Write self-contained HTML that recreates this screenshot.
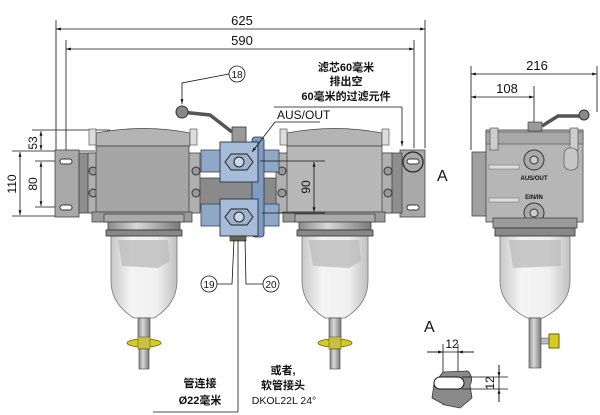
<!DOCTYPE html>
<html><head><meta charset="utf-8"><style>
html,body{margin:0;padding:0;background:#fff;}
svg{display:block;}
text{font-family:"Liberation Sans","Noto Sans CJK SC",sans-serif;fill:#111;}
.cj{font-weight:bold;}
</style></head><body>
<svg width="600" height="415" viewBox="0 0 600 415" xmlns="http://www.w3.org/2000/svg">
<defs>
<linearGradient id="bowl" x1="0" x2="1">
<stop offset="0" stop-color="#c8c8c8"/><stop offset="0.3" stop-color="#f4f4f4"/><stop offset="0.7" stop-color="#f0f0f0"/><stop offset="1" stop-color="#c0c0c0"/></linearGradient>
<linearGradient id="metal" x1="0" x2="1">
<stop offset="0" stop-color="#8a8a8a"/><stop offset="0.4" stop-color="#d8d8d8"/><stop offset="1" stop-color="#7a7a7a"/></linearGradient>
<marker id="ar" viewBox="0 0 10 10" refX="10" refY="5" markerWidth="8" markerHeight="6" orient="auto-start-reverse"><path d="M0,2 L10,5 L0,8z" fill="#111"/></marker>
<g id="filt">
 <path d="M-33,0 L33,0 L33,45 Q33,68 10,82 L-10,82 Q-33,68 -33,45 Z" fill="url(#bowl)" stroke="#777" stroke-width="0.8"/>
 <path d="M-26,4 L24,4 L26,25 L14,32 L-22,30 Z" fill="#bdbdbd" opacity="0.8"/>
 <rect x="-40" y="-22" width="80" height="8" fill="#aaa" stroke="#444" stroke-width="0.8"/>
 <rect x="-36" y="-14" width="72" height="8" fill="url(#metal)" stroke="#444" stroke-width="0.8"/>
 <rect x="-38" y="-6" width="76" height="6" fill="#888" stroke="#333" stroke-width="0.8"/>
 <rect x="-6" y="82" width="12" height="20" fill="url(#metal)" stroke="#444" stroke-width="0.6"/>
 <ellipse cx="0" cy="107" rx="17" ry="4" fill="#d4cc22" stroke="#6a6200" stroke-width="0.8"/>
 <rect x="-6" y="101" width="12" height="12" fill="#c8c040" stroke="#6a6200" stroke-width="0.6"/>
 <rect x="-5" y="113" width="10" height="20" fill="url(#metal)" stroke="#444" stroke-width="0.6"/>
</g>
</defs>

<g stroke="#111" stroke-width="0.8" fill="none">
<line x1="56" y1="20" x2="56" y2="150"/><line x1="425" y1="20" x2="425" y2="148"/>
<line x1="56" y1="29" x2="425" y2="29" marker-start="url(#ar)" marker-end="url(#ar)"/>
<line x1="66" y1="40" x2="66" y2="150"/><line x1="414" y1="40" x2="414" y2="148"/>
<line x1="66" y1="49" x2="414" y2="49" marker-start="url(#ar)" marker-end="url(#ar)"/>
</g>
<text x="242" y="25" font-size="13" text-anchor="middle">625</text>
<text x="242" y="45" font-size="13" text-anchor="middle">590</text>

<g stroke="#111" stroke-width="0.8" fill="none">
<line x1="32" y1="130" x2="110" y2="130"/>
<line x1="12" y1="151" x2="95" y2="151"/>
<line x1="35" y1="161" x2="95" y2="161"/>
<line x1="12" y1="216" x2="60" y2="216"/>
<line x1="35" y1="207" x2="60" y2="207"/>
<line x1="41" y1="131" x2="41" y2="150" marker-start="url(#ar)" marker-end="url(#ar)"/>
<line x1="41" y1="162" x2="41" y2="206" marker-start="url(#ar)" marker-end="url(#ar)"/>
<line x1="20" y1="152" x2="20" y2="215" marker-start="url(#ar)" marker-end="url(#ar)"/>
</g>
<text transform="translate(37,143) rotate(-90)" font-size="12" text-anchor="middle">53</text>
<text transform="translate(37,184) rotate(-90)" font-size="12" text-anchor="middle">80</text>
<text transform="translate(16,184) rotate(-90)" font-size="12" text-anchor="middle">110</text>

<rect x="55" y="150" width="24" height="67" fill="#a8a8a8" stroke="#444" stroke-width="0.8"/>
<rect x="79" y="153" width="18" height="60" fill="#8e8e8e" stroke="#444" stroke-width="0.8"/>
<rect x="60" y="159" width="12" height="5" rx="2.5" fill="#fff" stroke="#333"/>
<rect x="60" y="205" width="12" height="5" rx="2.5" fill="#fff" stroke="#333"/>
<rect x="400" y="150" width="25" height="67" fill="#a8a8a8" stroke="#444" stroke-width="0.8"/>
<rect x="384" y="153" width="18" height="60" fill="#8e8e8e" stroke="#444" stroke-width="0.8"/>
<rect x="407" y="159" width="12" height="5" rx="2.5" fill="#fff" stroke="#333"/>
<rect x="407" y="205" width="12" height="5" rx="2.5" fill="#fff" stroke="#333"/>
<circle cx="413" cy="162" r="10" fill="none" stroke="#222" stroke-width="1.2"/>
<text x="437" y="181" font-size="16">A</text>

<rect x="195" y="178" width="90" height="32" fill="#8a8a8a" stroke="#444" stroke-width="0.8"/>

<rect x="88" y="153" width="12" height="60" fill="#b0b0b0" stroke="#444" stroke-width="0.8"/>
<rect x="188" y="153" width="12" height="60" fill="#b0b0b0" stroke="#444" stroke-width="0.8"/>
<circle cx="93" cy="171" r="4" fill="#999" stroke="#333"/><circle cx="93" cy="193" r="4" fill="#999" stroke="#333"/>
<circle cx="196" cy="171" r="4" fill="#999" stroke="#333"/><circle cx="196" cy="193" r="4" fill="#999" stroke="#333"/>
<path d="M96,133 Q145,124 190,133 L190,146 L96,146 Z" fill="#b4b4b4" stroke="#444" stroke-width="0.8"/>
<rect x="96" y="146" width="93" height="66" fill="#a6a6a6" stroke="#444" stroke-width="0.8"/>
<rect x="92" y="212" width="100" height="10" fill="#9a9a9a" stroke="#444" stroke-width="0.8"/>
<rect x="89" y="129" width="7" height="16" fill="#ddd" stroke="#444" stroke-width="0.6"/>
<rect x="190" y="129" width="7" height="16" fill="#ddd" stroke="#444" stroke-width="0.6"/>
<use href="#filt" transform="translate(144,236)"/>

<rect x="276" y="153" width="12" height="60" fill="#b0b0b0" stroke="#444" stroke-width="0.8"/>
<rect x="380" y="153" width="12" height="60" fill="#b0b0b0" stroke="#444" stroke-width="0.8"/>
<circle cx="282" cy="171" r="4" fill="#999" stroke="#333"/><circle cx="282" cy="193" r="4" fill="#999" stroke="#333"/>
<circle cx="388" cy="171" r="4" fill="#999" stroke="#333"/><circle cx="388" cy="193" r="4" fill="#999" stroke="#333"/>
<path d="M287,133 Q335,124 382,133 L382,146 L287,146 Z" fill="#b4b4b4" stroke="#444" stroke-width="0.8"/>
<rect x="287" y="146" width="95" height="66" fill="#b8b8b8" stroke="#444" stroke-width="0.8"/>
<rect x="283" y="212" width="102" height="10" fill="#9a9a9a" stroke="#444" stroke-width="0.8"/>
<rect x="280" y="129" width="7" height="16" fill="#ddd" stroke="#444" stroke-width="0.6"/>
<rect x="382" y="129" width="7" height="16" fill="#ddd" stroke="#444" stroke-width="0.6"/>
<use href="#filt" transform="translate(335,236)"/>

<rect x="201" y="150" width="20" height="22" fill="#8fa8c8" stroke="#345" stroke-width="0.8"/>
<rect x="259" y="150" width="20" height="22" fill="#8fa8c8" stroke="#345" stroke-width="0.8"/>
<rect x="201" y="204" width="20" height="22" fill="#8fa8c8" stroke="#345" stroke-width="0.8"/>
<rect x="259" y="204" width="20" height="22" fill="#8fa8c8" stroke="#345" stroke-width="0.8"/>
<rect x="252" y="137" width="12" height="100" rx="3" fill="#7f9cc0" stroke="#234" stroke-width="0.8"/>
<rect x="220" y="142" width="38" height="40" fill="#a6bcd8" stroke="#234" stroke-width="0.9"/>
<rect x="220" y="199" width="38" height="37" fill="#a6bcd8" stroke="#234" stroke-width="0.9"/>
<polygon points="231,154 247,154 253,162 247,170 231,170 225,162" fill="#9fb2cc" stroke="#222"/>
<circle cx="239" cy="162" r="5" fill="#c9d8ea" stroke="#222"/>
<polygon points="231,209 247,209 253,217 247,225 231,225 225,217" fill="#9fb2cc" stroke="#222"/>
<circle cx="239" cy="217" r="5" fill="#c9d8ea" stroke="#222"/>
<rect x="232" y="127" width="14" height="15" fill="#999" stroke="#333" stroke-width="0.8"/>
<path d="M181,112 L210,115 L232,132" fill="none" stroke="#555" stroke-width="3.5"/>
<circle cx="182" cy="112" r="6" fill="#888" stroke="#333"/>
<rect x="230" y="236" width="16" height="5" fill="#665" stroke="#222" stroke-width="0.6"/>

<g stroke="#111" stroke-width="0.8" fill="none">
<circle cx="237" cy="74" r="8"/>
<path d="M229,74 L182,83 L182,104" marker-end="url(#ar)"/>
<line x1="275" y1="122" x2="320" y2="122"/>
<path d="M275,122 L252,152" marker-end="url(#ar)"/>
<line x1="274" y1="107" x2="402" y2="107"/>
<path d="M402,107 L402,146" marker-end="url(#ar)"/>
<circle cx="209" cy="284" r="8"/><circle cx="271" cy="284" r="8"/>
<path d="M217,284 L232,284 L234,240"/>
<path d="M263,284 L246,284 L245,240"/>
<line x1="238" y1="240" x2="238" y2="412"/>
<line x1="153" y1="412" x2="238" y2="412"/>
<line x1="260" y1="161" x2="325" y2="161"/>
<line x1="262" y1="213" x2="325" y2="213"/>
<line x1="314" y1="162" x2="314" y2="212" marker-start="url(#ar)" marker-end="url(#ar)"/>
</g>
<text x="237" y="78" font-size="10" text-anchor="middle">18</text>
<text x="209" y="288" font-size="10" text-anchor="middle">19</text>
<text x="271" y="288" font-size="10" text-anchor="middle">20</text>
<text transform="translate(310,187) rotate(-90)" font-size="12" text-anchor="middle">90</text>
<text x="277" y="119" font-size="12">AUS/OUT</text>
<text class="cj" x="346" y="71" font-size="11" text-anchor="middle">滤芯60毫米</text>
<text class="cj" x="346" y="85" font-size="11" text-anchor="middle">排出空</text>
<text class="cj" x="346" y="100" font-size="11" text-anchor="middle">60毫米的过滤元件</text>
<text class="cj" x="200" y="387" font-size="11" text-anchor="middle">管连接</text>
<text class="cj" x="200" y="404" font-size="11" text-anchor="middle">Ø22毫米</text>
<text class="cj" x="283" y="374" font-size="11" text-anchor="middle">或者,</text>
<text class="cj" x="283" y="389" font-size="11" text-anchor="middle">软管接头</text>
<text x="284" y="404" font-size="10.5" text-anchor="middle">DKOL22L 24°</text>

<g stroke="#111" stroke-width="0.8" fill="none">
<line x1="471" y1="66" x2="471" y2="150"/><line x1="597" y1="66" x2="597" y2="112"/>
<line x1="471" y1="74" x2="597" y2="74" marker-start="url(#ar)" marker-end="url(#ar)"/>
<line x1="534" y1="86" x2="534" y2="170"/>
<line x1="471" y1="97" x2="534" y2="97" marker-start="url(#ar)" marker-end="url(#ar)"/>
</g>
<text x="537" y="70" font-size="13" text-anchor="middle">216</text>
<text x="507" y="93" font-size="13" text-anchor="middle">108</text>
<rect x="472" y="152" width="16" height="64" fill="#a0a0a0" stroke="#444" stroke-width="0.8"/>
<rect x="486" y="130" width="97" height="92" fill="#b6b6b6" stroke="#444" stroke-width="0.8"/>
<rect x="486" y="132" width="97" height="12" fill="#a8a8a8" stroke="#444" stroke-width="0.6"/>
<rect x="490" y="128" width="8" height="22" fill="#ccc" stroke="#444" stroke-width="0.6"/>
<rect x="570" y="128" width="8" height="22" fill="#ccc" stroke="#444" stroke-width="0.6"/>
<rect x="564" y="148" width="14" height="22" rx="6" fill="#c6c6c6" stroke="#444" stroke-width="0.6"/>
<rect x="489" y="165" width="30" height="4" fill="#ddd" stroke="#666" stroke-width="0.5"/>
<rect x="489" y="198" width="30" height="4" fill="#ddd" stroke="#666" stroke-width="0.5"/>
<circle cx="534" cy="160" r="10" fill="#aaa" stroke="#333"/><circle cx="534" cy="160" r="4" fill="#ccc" stroke="#333"/>
<circle cx="534" cy="213" r="10" fill="#aaa" stroke="#333"/><circle cx="534" cy="213" r="4" fill="#ccc" stroke="#333"/>
<text x="534" y="180" font-size="6" font-weight="bold" text-anchor="middle">AUS/OUT</text>
<text x="534" y="199" font-size="6" font-weight="bold" text-anchor="middle">EIN/IN</text>
<rect x="528" y="122" width="14" height="9" fill="#999" stroke="#333" stroke-width="0.6"/>
<path d="M542,126 L558,116 L583,116" fill="none" stroke="#555" stroke-width="3.5"/>
<circle cx="584" cy="115" r="5" fill="#888" stroke="#333"/>
<g transform="translate(535,236)">
 <path d="M-35,0 L35,0 L35,45 Q35,68 8,82 L-8,82 Q-35,68 -35,45 Z" fill="url(#bowl)" stroke="#777" stroke-width="0.8"/>
 <path d="M-26,4 L26,4 L26,30 L-22,32 Z" fill="#bdbdbd" opacity="0.8"/>
 <rect x="-42" y="-18" width="84" height="10" fill="#9a9a9a" stroke="#444" stroke-width="0.8"/>
 <rect x="-40" y="-8" width="80" height="8" fill="#888" stroke="#333" stroke-width="0.8"/>
 <rect x="-6" y="82" width="12" height="50" fill="url(#metal)" stroke="#444" stroke-width="0.6"/>
 <rect x="6" y="102" width="8" height="6" fill="#bbb" stroke="#444" stroke-width="0.5"/>
 <rect x="14" y="98" width="10" height="14" fill="#d4cc22" stroke="#6a6200"/>
</g>

<text x="424" y="332" font-size="16">A</text>
<g stroke="#111" stroke-width="0.8" fill="none">
<line x1="443" y1="344" x2="443" y2="405"/><line x1="458" y1="344" x2="458" y2="405"/>
<line x1="427" y1="352" x2="443" y2="352" marker-end="url(#ar)"/>
<line x1="474" y1="352" x2="458" y2="352" marker-end="url(#ar)"/>
<line x1="427" y1="352" x2="474" y2="352"/>
</g>
<path d="M443,372 L468,371 Q474,378 470,385 L472,398 L460,408 L445,405 L432,398 L434,384 Z" fill="#8a8a8a" stroke="#333" stroke-width="0.8"/>
<rect x="434" y="377" width="30" height="12" rx="6" fill="#fff" stroke="#111"/>
<g stroke="#111" stroke-width="0.8" fill="none">
<line x1="462" y1="377" x2="508" y2="377"/><line x1="462" y1="389" x2="508" y2="389"/>
<line x1="499" y1="365" x2="499" y2="377" marker-end="url(#ar)"/>
<line x1="499" y1="402" x2="499" y2="389" marker-end="url(#ar)"/>
<line x1="499" y1="365" x2="499" y2="402"/>
</g>
<text transform="translate(494,383) rotate(-90)" font-size="12" text-anchor="middle">12</text>
<text x="452" y="348" font-size="12" text-anchor="middle">12</text>
</svg>
</body></html>
